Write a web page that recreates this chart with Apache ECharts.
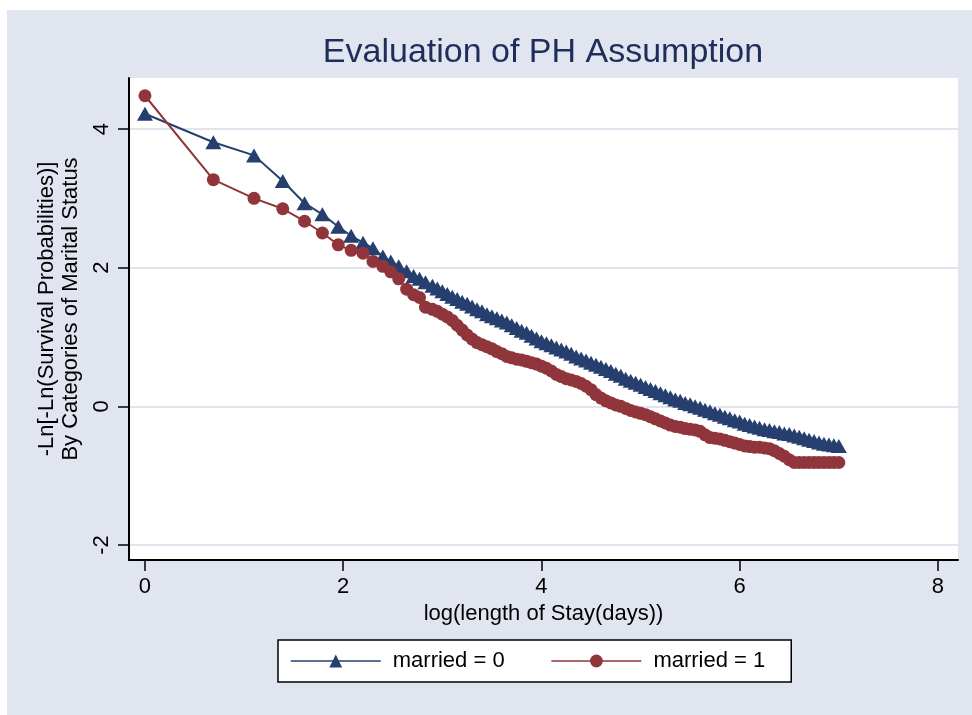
<!DOCTYPE html>
<html>
<head>
<meta charset="utf-8">
<title>Evaluation of PH Assumption</title>
<script src="https://cdn.jsdelivr.net/npm/echarts@6.0.0/dist/echarts.min.js"></script>
<style>
    html, body { margin: 0; padding: 0; background: #fff; }
    #chart { width: 972px; height: 715px; }
</style>
</head>
<body>
<div id="chart"></div>
<script>
// log(length of stay) positions of the plotted points
const logDays = [0, 0.69, 1.10, 1.39, 1.61, 1.79, 1.95, 2.08, 2.20, 2.30,
    2.40, 2.48, 2.56, 2.64, 2.71, 2.77, 2.83,
    2.90, 2.95, 3.00, 3.05, 3.10, 3.15, 3.20, 3.25, 3.30, 3.35,
    3.40, 3.45, 3.50, 3.55, 3.60, 3.65, 3.70, 3.75, 3.80, 3.85,
    3.90, 3.95, 4.00, 4.05, 4.10, 4.15, 4.20, 4.25, 4.30, 4.35,
    4.40, 4.45, 4.50, 4.55, 4.60, 4.65, 4.70, 4.75, 4.80, 4.85,
    4.90, 4.95, 5.00, 5.05, 5.10, 5.15, 5.20, 5.25, 5.30, 5.35,
    5.40, 5.45, 5.50, 5.55, 5.60, 5.65, 5.70, 5.75, 5.80, 5.85,
    5.90, 5.95, 6.00, 6.05, 6.10, 6.15, 6.20, 6.25, 6.30, 6.35,
    6.40, 6.45, 6.50, 6.55, 6.60, 6.65, 6.70, 6.75, 6.80, 6.85,
    6.90, 6.95, 7.00];

// -ln(-ln S) for married = 0
const married0 = [4.22, 3.81, 3.62, 3.25, 2.93, 2.77, 2.59, 2.46, 2.36, 2.28,
    2.16, 2.09, 2.02, 1.95, 1.88, 1.84, 1.79,
    1.74, 1.70, 1.66, 1.62, 1.58, 1.55, 1.51, 1.48, 1.44, 1.40,
    1.37, 1.33, 1.30, 1.27, 1.24, 1.21, 1.17, 1.13, 1.09, 1.06,
    1.02, 0.98, 0.94, 0.91, 0.88, 0.85, 0.82, 0.79, 0.76, 0.72,
    0.69, 0.66, 0.63, 0.60, 0.57, 0.54, 0.51, 0.47, 0.44, 0.40,
    0.37, 0.34, 0.31, 0.28, 0.25, 0.22, 0.19, 0.16, 0.13, 0.10,
    0.08, 0.05, 0.03, 0.00, -0.02, -0.05, -0.07, -0.10, -0.12, -0.15,
    -0.17, -0.20, -0.22, -0.25, -0.27, -0.29, -0.31, -0.33, -0.34, -0.36,
    -0.37, -0.39, -0.40, -0.42, -0.44, -0.46, -0.48, -0.50, -0.52, -0.54,
    -0.55, -0.56, -0.57];

// -ln(-ln S) for married = 1
const married1 = [4.48, 3.27, 3.00, 2.85, 2.67, 2.50, 2.33, 2.25, 2.21, 2.09,
    2.02, 1.94, 1.84, 1.69, 1.61, 1.57, 1.43,
    1.40, 1.37, 1.33, 1.29, 1.24, 1.17, 1.10, 1.03, 0.97, 0.92,
    0.89, 0.86, 0.83, 0.79, 0.76, 0.72, 0.70, 0.68, 0.67, 0.65,
    0.63, 0.61, 0.58, 0.55, 0.51, 0.46, 0.43, 0.40, 0.38, 0.36,
    0.33, 0.29, 0.24, 0.17, 0.12, 0.08, 0.05, 0.02, 0.00, -0.03,
    -0.06, -0.08, -0.10, -0.12, -0.15, -0.18, -0.21, -0.24, -0.27, -0.29,
    -0.30, -0.32, -0.33, -0.34, -0.36, -0.41, -0.45, -0.46, -0.47, -0.49,
    -0.51, -0.53, -0.55, -0.57, -0.58, -0.59, -0.59, -0.60, -0.61, -0.64,
    -0.68, -0.72, -0.77, -0.81, -0.81, -0.81, -0.81, -0.81, -0.81, -0.81,
    -0.81, -0.81, -0.81];

const xTicks = [0, 2, 4, 6, 8];
const yTicks = [-2, 0, 2, 4];

const seriesNames = ['married = 0', 'married = 1'];

const FONT = "'Liberation Sans', Arial, sans-serif";
const NAVY = '#263f6e';
const MAROON = '#90353b';

const chart = echarts.init(document.getElementById('chart'), null, { renderer: 'canvas' });

const option = {
    animation: false,
    backgroundColor: '#ffffff',
    graphic: [
        {
            type: 'rect',
            z: -10,
            silent: true,
            shape: { x: 7, y: 10, width: 965, height: 705 },
            style: { fill: '#e1e5f0' }
        }
    ],
    title: {
        text: 'Evaluation of PH Assumption',
        left: 543,
        textAlign: 'center',
        top: 36,
        padding: 0,
        textStyle: {
            fontFamily: FONT,
            fontSize: 34,
            fontWeight: 'normal',
            color: '#1f2d5a'
        }
    },
    legend: {
        data: seriesNames,
        left: 278,
        top: 640,
        orient: 'horizontal',
        backgroundColor: '#ffffff',
        borderColor: '#000000',
        borderWidth: 1.5,
        borderRadius: 0,
        padding: [10, 26, 10, 12],
        itemWidth: 90,
        itemHeight: 16,
        itemGap: 46,
        lineStyle: { width: 1.5 },
        textStyle: {
            fontFamily: FONT,
            fontSize: 22,
            color: '#000',
            padding: [0, 0, 0, 7]
        }
    },
    grid: {
        left: 129,
        right: 14,
        top: 78,
        bottom: 155,
        show: true,
        backgroundColor: '#ffffff',
        borderWidth: 0,
        containLabel: false
    },
    xAxis: {
        type: 'value',
        min: -0.161,
        max: 8.202,
        name: 'log(length of Stay(days))',
        nameLocation: 'middle',
        nameGap: 40,
        nameTextStyle: { fontFamily: FONT, fontSize: 22, color: '#000' },
        axisLine: { show: true, onZero: false, lineStyle: { color: '#000', width: 2 } },
        axisTick: { show: true, length: 11, customValues: xTicks, lineStyle: { color: '#000', width: 1.5 } },
        axisLabel: { customValues: xTicks, margin: 16, fontFamily: FONT, fontSize: 22, color: '#000' },
        splitLine: { show: false }
    },
    yAxis: {
        type: 'value',
        min: -2.216,
        max: 4.736,
        name: '-Ln[-Ln(Survival Probabilities)]\nBy Categories of Marital Status',
        nameLocation: 'middle',
        nameGap: 45,
        nameTextStyle: { fontFamily: FONT, fontSize: 22, color: '#000', lineHeight: 24, padding: [0, 0, 0, 20] },
        axisLine: { show: true, onZero: false, lineStyle: { color: '#000', width: 2 } },
        axisTick: { show: true, length: 11, customValues: yTicks, lineStyle: { color: '#000', width: 1.5 } },
        axisLabel: { customValues: yTicks, rotate: 90, margin: 16, fontFamily: FONT, fontSize: 22, color: '#000' },
        splitLine: { show: true, lineStyle: { color: '#e0e4ef', width: 2 } }
    },
    series: [
        {
            name: seriesNames[0],
            type: 'line',
            data: logDays.map((x, i) => [x, married0[i]]),
            symbol: 'triangle',
            symbolSize: [16, 14],
            showAllSymbol: true,
            itemStyle: { color: NAVY },
            lineStyle: { color: NAVY, width: 2 },
            z: 2
        },
        {
            name: seriesNames[1],
            type: 'line',
            data: logDays.map((x, i) => [x, married1[i]]),
            symbol: 'circle',
            symbolSize: 13,
            showAllSymbol: true,
            itemStyle: { color: MAROON },
            lineStyle: { color: MAROON, width: 2 },
            z: 3
        }
    ]
};

chart.setOption(option);
</script>
</body>
</html>
